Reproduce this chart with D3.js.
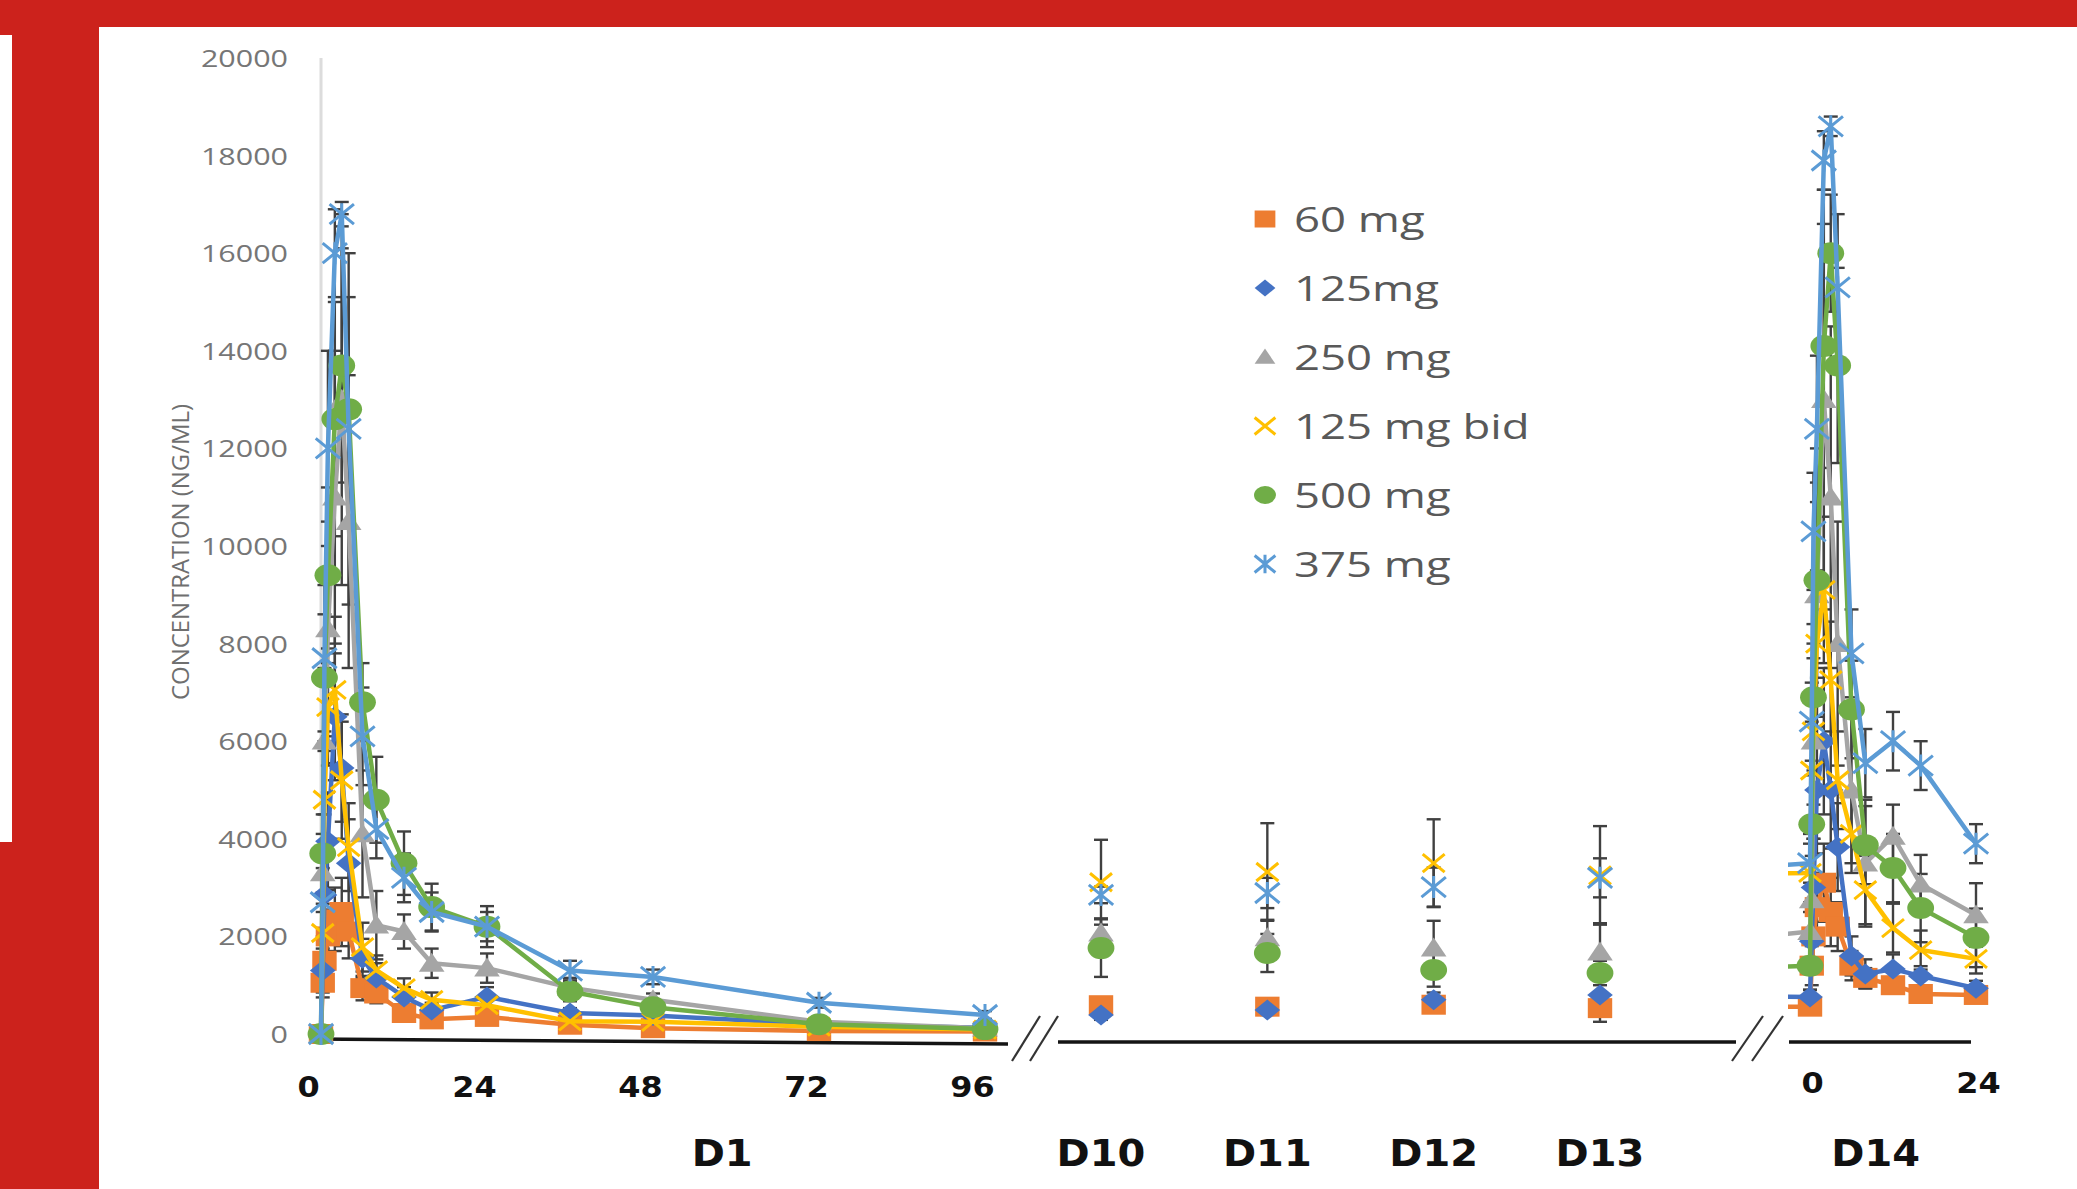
<!DOCTYPE html>
<html>
<head>
<meta charset="utf-8">
<script src="https://cdn.jsdelivr.net/npm/d3@7"></script>
<style>
  html, body { margin: 0; padding: 0; background: #fff; }
  svg { display: block; }
</style>
</head>
<body>
<svg id="chart" width="2077" height="1189"></svg>
<script>
// ---------- data ----------
const seriesNames = ["60 mg", "125mg", "250 mg", "125 mg bid", "500 mg", "375 mg"];

// Day 1 sampling times (h after dose)
const d1Hours = [0, 0.25, 0.5, 1, 2, 3, 4, 6, 8, 12, 16, 24, 36, 48, 72, 96];
// Pre-dose troughs on days 10-13 (h since first dose)
const troughDays = ["D10", "D11", "D12", "D13"];
const troughHours = [216, 240, 264, 288];
// Day 14 sampling times (h after dose), day 14 starts at 312 h
const d14Start = 312;
const d14Hours = [0, 0.25, 0.5, 1, 2, 3, 4, 6, 8, 12, 16, 24];

const d1TickLabels = [0, 24, 48, 72, 96];
const d14TickLabels = [0, 24];
const yTicks = [0, 2000, 4000, 6000, 8000, 10000, 12000, 14000, 16000, 18000, 20000];
const dayLabels = ["D1", "D10", "D11", "D12", "D13", "D14"];
const dayLabelHours = [58, 216, 240, 264, 288, 321.5];

// mean concentration (ng/mL)
const d1Mean = {
  "60 mg":      [0, 1050, 1500, 2000, 2350, 2500, 2100, 940, 830, 430, 300, 350, 190, 120, 60, 50],
  "125mg":      [0, 1300, 2850, 3950, 6500, 5450, 3500, 1550, 1150, 760, 490, 760, 430, 380, 200, 130],
  "250 mg":     [0, 3300, 6000, 8300, 11000, 13000, 10500, 4100, 2230, 2100, 1450, 1350, 950, 700, 250, 120],
  "125 mg bid": [0, 2070, 4800, 6700, 7050, 5200, 3830, 1780, 1310, 940, 700, 590, 260, 250, 150, 90],
  "500 mg":     [0, 3700, 7300, 9400, 12600, 13700, 12800, 6800, 4800, 3500, 2600, 2200, 870, 550, 200, 100],
  "375 mg":     [0, 2700, 7700, 12000, 16000, 16800, 12400, 6100, 4200, 3200, 2500, 2200, 1300, 1170, 640, 390]
};
const d1Sd = {
  "60 mg":      [0, 300, 450, 550, 650, 700, 550, 250, 200, 150, 100, 100, 60, 40, 30, 20],
  "125mg":      [0, 450, 800, 1000, 1300, 1100, 900, 400, 300, 200, 150, 200, 100, 80, 50, 30],
  "250 mg":     [0, 800, 1500, 2200, 3000, 3800, 3000, 1300, 700, 350, 300, 300, 200, 130, 80, 50],
  "125 mg bid": [0, 600, 1000, 1200, 1500, 1200, 900, 500, 300, 200, 150, 120, 80, 60, 40, 30],
  "500 mg":     [0, 800, 1300, 1800, 2400, 2400, 2300, 800, 880, 650, 480, 420, 200, 130, 80, 50],
  "375 mg":     [0, 700, 1500, 2000, 900, 250, 3600, 1000, 600, 500, 400, 300, 200, 150, 100, 80]
};
const troughMean = {
  "60 mg":      [590, 560, 600, 530],
  "125mg":      [390, 490, 700, 800],
  "250 mg":     [2070, 1970, 1760, 1680],
  "125 mg bid": [3110, 3320, 3500, 3250],
  "500 mg":     [1760, 1660, 1310, 1250],
  "375 mg":     [2850, 2890, 3010, 3200]
};
const troughSd = {
  "60 mg":      [60, 60, 80, 100],
  "125mg":      [100, 100, 150, 550],
  "250 mg":     [300, 370, 560, 590],
  "125 mg bid": [870, 1000, 900, 1010],
  "500 mg":     [590, 390, 340, 250],
  "375 mg":     [170, 310, 400, 400]
};
const d14Mean = {
  "60 mg":      [560, 1400, 2000, 2600, 3100, 2500, 2200, 1400, 1150, 1000, 820, 800],
  "125mg":      [760, 1900, 3000, 5000, 6000, 5000, 3830, 1600, 1230, 1330, 1190, 940],
  "250 mg":     [2100, 2750, 6000, 9000, 13000, 11000, 8000, 5000, 3500, 4050, 3070, 2440],
  "125 mg bid": [3300, 5400, 6200, 8000, 9100, 7250, 5200, 4100, 2950, 2170, 1720, 1540],
  "500 mg":     [1400, 4300, 6900, 9300, 14100, 16000, 13700, 6650, 3870, 3400, 2580, 1970],
  "375 mg":     [3500, 6400, 10300, 12400, 17900, 18600, 15300, 7800, 5550, 6000, 5500, 3900]
};
const d14Sd = {
  "60 mg":      [100, 400, 600, 700, 800, 700, 500, 300, 200, 150, 100, 100],
  "125mg":      [150, 600, 1000, 1300, 1500, 1200, 900, 400, 300, 300, 200, 150],
  "250 mg":     [600, 900, 2000, 3000, 4300, 3500, 2500, 1500, 1300, 650, 600, 650],
  "125 mg bid": [800, 1000, 1500, 1500, 1500, 1200, 1000, 800, 700, 500, 400, 300],
  "500 mg":     [500, 1000, 1500, 2000, 2500, 1200, 2000, 1000, 800, 700, 700, 600],
  "375 mg":     [400, 800, 1200, 1500, 600, 200, 1500, 900, 700, 600, 500, 400]
};

// ---------- styling ----------
const seriesColor = ["#ED7D31", "#4472C4", "#A5A5A5", "#FFC000", "#70AD47", "#5B9BD5"];
const seriesShape = ["square", "diamond", "triangle", "cross", "circle", "star"];
const RED = "#CC221C";
const STRETCH = 1.3;           // horizontal widening applied to text and markers
const errColor = "#404040";

const W = 2077, H = 1189;
const svg = d3.select("#chart");

// ---------- frame ----------
svg.append("rect").attr("x", 0).attr("y", 0).attr("width", W).attr("height", H).attr("fill", "#fff");
svg.append("rect").attr("x", 0).attr("y", 0).attr("width", W).attr("height", 27).attr("fill", RED);
svg.append("rect").attr("x", 0).attr("y", 0).attr("width", 99).attr("height", H).attr("fill", RED);
svg.append("rect").attr("x", 0).attr("y", 35).attr("width", 12).attr("height", 807).attr("fill", "#fff");

// ---------- scales (broken time axis: D1 | D10-D13 | D14) ----------
const x = d3.scaleLinear()
  .domain([0, 96, 216, 288, 312, 336])
  .range([321, 985, 1101, 1600, 1810, 1976]);
const y = d3.scaleLinear().domain([0, 20000]).range([1034, 58]);

// ---------- y axis ----------
svg.append("line")
  .attr("x1", x(0)).attr("x2", x(0))
  .attr("y1", y(20000)).attr("y2", y(0) + 4)
  .attr("stroke", "#dcdcdc").attr("stroke-width", 3);

const yAxisG = svg.append("g")
  .attr("transform", `translate(${x(0)},0)`)
  .call(d3.axisLeft(y).tickValues(yTicks).tickFormat(d3.format("d")).tickSize(0).tickPadding(0));
yAxisG.select(".domain").remove();
yAxisG.attr("font-family", null).attr("font-size", null);
yAxisG.selectAll("text")
  .attr("x", 0).attr("dy", null).attr("y", 8.5)
  .attr("transform", `translate(-33,0) scale(1.27,1)`)
  .attr("text-anchor", "end")
  .style("font-family", "'Open Sans', sans-serif")
  .style("font-size", "24px")
  .attr("fill", "#767676");

svg.append("text")
  .attr("transform", "translate(189,552) rotate(-90)")
  .attr("text-anchor", "middle")
  .attr("textLength", 296).attr("lengthAdjust", "spacingAndGlyphs")
  .style("font-family", "'Open Sans', sans-serif")
  .style("font-size", "23px")
  .attr("fill", "#6f6f6f")
  .text("CONCENTRATION (NG/ML)");

// ---------- baselines and axis breaks ----------
const base = svg.append("g").attr("stroke", "#141414").attr("stroke-width", 3.5).attr("fill", "none");
base.append("line").attr("x1", x(0) - 9).attr("y1", 1039).attr("x2", x(96) + 23).attr("y2", 1044);
base.append("line").attr("x1", 1058).attr("y1", 1042).attr("x2", 1736).attr("y2", 1042);
base.append("line").attr("x1", x(d14Start) - 21).attr("y1", 1042).attr("x2", x(d14Start + 24) - 5).attr("y2", 1042);

const brk = svg.append("g").attr("stroke", "#333").attr("stroke-width", 2.2);
[[1012, 1040], [1030, 1058], [1732, 1763], [1752, 1783]].forEach(([a, b]) => {
  brk.append("line").attr("x1", a).attr("y1", 1061).attr("x2", b).attr("y2", 1016);
});

// ---------- x tick labels ----------
function boldLabels(g, sx) {
  g.select(".domain").remove();
  g.attr("font-family", null).attr("font-size", null);
  g.selectAll("text")
    .attr("y", 0).attr("dy", null)
    .attr("transform", `scale(${sx},1)`)
    .style("font-family", "'DejaVu Sans', sans-serif")
    .style("font-weight", "bold")
    .style("font-size", "29px")
    .attr("fill", "#111");
}
const d1Axis = svg.append("g")
  .attr("transform", "translate(-13,1097)")
  .call(d3.axisBottom(x).tickValues(d1TickLabels).tickSize(0).tickPadding(0));
boldLabels(d1Axis, 1.1);

const d14Axis = svg.append("g")
  .attr("transform", "translate(2,1093)")
  .call(d3.axisBottom(x).tickValues(d14TickLabels.map(h => d14Start + h))
    .tickFormat(h => String(h - d14Start)).tickSize(0).tickPadding(0));
boldLabels(d14Axis, 1.1);

svg.append("g").selectAll("text")
  .data(dayLabels)
  .join("text")
  .attr("transform", (d, i) => `translate(${x(dayLabelHours[i])},1166) scale(1.08,1)`)
  .attr("text-anchor", "middle")
  .style("font-family", "'DejaVu Sans', sans-serif")
  .style("font-weight", "bold")
  .style("font-size", "37px")
  .attr("fill", "#111")
  .text(d => d);

// ---------- assemble points ----------
function pointsFor(name) {
  const d1 = d1Hours.map((h, i) => ({ h, v: d1Mean[name][i], sd: d1Sd[name][i] }));
  const tr = troughHours.map((h, i) => ({ h, v: troughMean[name][i], sd: troughSd[name][i] }));
  const d14 = d14Hours.map((h, i) => ({ h: d14Start + h, v: d14Mean[name][i], sd: d14Sd[name][i] }));
  return { d1, tr, d14 };
}
const allSeries = seriesNames.map((name, k) => ({
  name, color: seriesColor[k], shape: seriesShape[k], ...pointsFor(name)
}));

// ---------- error bars (behind all series) ----------
const errG = svg.append("g").attr("stroke", errColor).attr("stroke-width", 2.4);
const cap = 7;
allSeries.forEach(s => {
  const pts = [...s.d1, ...s.tr, ...s.d14].filter(p => p.sd > 0);
  const g = errG.append("g");
  g.selectAll("line.bar").data(pts).join("line").attr("class", "bar")
    .attr("x1", p => x(p.h)).attr("x2", p => x(p.h))
    .attr("y1", p => y(Math.max(0, p.v - p.sd))).attr("y2", p => y(p.v + p.sd));
  g.selectAll("line.top").data(pts).join("line").attr("class", "top")
    .attr("x1", p => x(p.h) - cap).attr("x2", p => x(p.h) + cap)
    .attr("y1", p => y(p.v + p.sd)).attr("y2", p => y(p.v + p.sd));
  g.selectAll("line.bot").data(pts.filter(p => p.v - p.sd > 0)).join("line").attr("class", "bot")
    .attr("x1", p => x(p.h) - cap).attr("x2", p => x(p.h) + cap)
    .attr("y1", p => y(p.v - p.sd)).attr("y2", p => y(p.v - p.sd));
});

// ---------- markers ----------
function markerPath(shape, ry) {
  const rx = ry * 1.22;
  switch (shape) {
    case "square":   return `M${-rx},${-ry}H${rx}V${ry}H${-rx}Z`;
    case "diamond":  return `M0,${-ry}L${rx},0L0,${ry}L${-rx},0Z`;
    case "triangle": return `M0,${-ry}L${rx},${ry * 0.8}L${-rx},${ry * 0.8}Z`;
    case "circle":   return `M${-rx},0A${rx},${ry} 0 1,0 ${rx},0A${rx},${ry} 0 1,0 ${-rx},0Z`;
    case "cross":    return `M${-rx},${-ry}L${rx},${ry}M${-rx},${ry}L${rx},${-ry}`;
    case "star":     return `M${-rx},${-ry}L${rx},${ry}M${-rx},${ry}L${rx},${-ry}M0,${-ry * 1.1}V${ry * 1.1}`;
  }
}
const markerSize = { square: 10, diamond: 10.5, triangle: 10.5, circle: 11, cross: 9, star: 10 };
const stroked = shape => shape === "cross" || shape === "star";
function styleMarker(sel, s) {
  if (stroked(s.shape)) sel.attr("fill", "none").attr("stroke", s.color).attr("stroke-width", 3);
  else sel.attr("fill", s.color).attr("stroke", "none");
}

// ---------- series ----------
svg.append("defs").append("clipPath").attr("id", "d14clip")
  .append("rect").attr("x", 1788).attr("y", 0).attr("width", W - 1788).attr("height", H);

const line = d3.line().x(p => x(p.h)).y(p => y(p.v));
const seriesG = svg.append("g");
allSeries.forEach(s => {
  const g = seriesG.append("g");
  g.append("path").datum(s.d1).attr("d", line)
    .attr("fill", "none").attr("stroke", s.color).attr("stroke-width", 4.5).attr("stroke-linejoin", "round");
  // Day 14 profile continues from the day 13 trough; only the part inside the D14 panel shows
  const d14Line = [s.tr[s.tr.length - 1], ...s.d14];
  g.append("path").datum(d14Line).attr("d", line).attr("clip-path", "url(#d14clip)")
    .attr("fill", "none").attr("stroke", s.color).attr("stroke-width", 4.5).attr("stroke-linejoin", "round");
  const pts = [...s.d1, ...s.tr, ...s.d14];
  g.selectAll("path.mk").data(pts).join("path").attr("class", "mk")
    .attr("d", markerPath(s.shape, markerSize[s.shape]))
    .attr("transform", p => `translate(${x(p.h)},${y(p.v)})`)
    .call(styleMarker, s);
});

// ---------- legend ----------
const legend = svg.append("g");
const legendRowY = d3.scalePoint().domain(seriesNames).range([219, 564]);
allSeries.forEach(s => {
  const row = legend.append("g").attr("transform", `translate(0,${legendRowY(s.name)})`);
  row.append("path")
    .attr("d", markerPath(s.shape, s.shape === "circle" ? 9 : 8.5))
    .attr("transform", "translate(1265,0)")
    .call(styleMarker, s);
  row.append("text")
    .attr("transform", `translate(1294,12.5) scale(${STRETCH},1)`)
    .style("font-family", "'Open Sans', sans-serif")
    .style("font-size", "35px")
    .attr("fill", "#595959")
    .text(s.name);
});
</script>
</body>
</html>
